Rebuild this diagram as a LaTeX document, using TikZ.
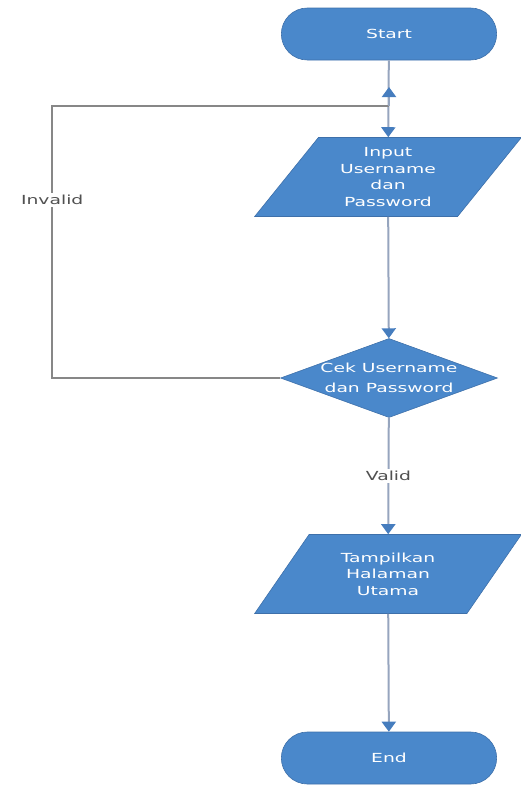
\documentclass[tikz,border=0pt]{standalone}
\usepackage{fontspec}
\newfontfamily\flowfont[FakeStretch=1.5]{DejaVu Sans}
\usetikzlibrary{shapes.geometric, shapes.misc, arrows.meta}

\definecolor{boxblue}{RGB}{74,136,203}
\definecolor{edgeblue}{RGB}{62,112,170}
\definecolor{linegray}{RGB}{150,165,190}
\definecolor{loopgray}{RGB}{135,135,135}
\definecolor{tipblue}{RGB}{70,125,190}
\definecolor{labelgray}{RGB}{80,80,80}

\begin{document}
\begin{tikzpicture}[
    x=1pt, y=-1pt,
    % Define styles
    terminal/.style={rounded rectangle, draw=edgeblue, fill=boxblue, line width=0.6pt, minimum width=222pt, minimum height=52pt, text=white, font=\flowfont\fontsize{12.5}{17}\selectfont},
    io/.style={trapezium, trapezium left angle=54, trapezium right angle=126, trapezium stretches=true, draw=edgeblue, fill=boxblue, line width=0.6pt, minimum width=267pt, minimum height=79pt, inner sep=2pt, align=center, text=white, font=\flowfont\fontsize{12.5}{16.5}\selectfont},
    decision/.style={diamond, draw=edgeblue, fill=boxblue, line width=0.6pt, minimum width=217pt, minimum height=79pt, inner sep=0pt, align=center, text=white, font=\flowfont\fontsize{12.5}{20}\selectfont},
    flow/.style={draw=linegray, line width=2pt, -{Triangle[width=14pt, length=10pt, color=tipblue]}},
    back/.style={draw=loopgray, line width=1.6pt},
    tag/.style={fill=white, inner sep=2pt, text=labelgray, font=\flowfont\fontsize{12.5}{15}\selectfont}
]
\useasboundingbox (0,0) rectangle (521,788);

% Nodes
\node[terminal] (start_term) at (389,34) {Start};
\node[io] (input_data) at (388,177) {Input\\Username\\dan\\Password};
\node[decision] (check_login) at (389,378) {\makebox[0pt]{Cek Username}\\\makebox[0pt]{dan Password}};
\node[io] (show_page) at (388,574) {Tampilkan\\Halaman\\Utama};
\node[terminal] (end_term) at (389,758) {End};

% Loop back points
\coordinate (back_top) at (389,106);
\coordinate (back_tip) at (389,87);

% Connectors
\draw[flow] (start_term) -- (input_data);
\draw[flow] (input_data) -- (check_login);
\draw[flow] (check_login) -- node[tag, pos=0.5] {Valid} (show_page);
\draw[flow] (show_page) -- (end_term);

% Invalid loop
\draw[back] (check_login.west) -- ++(-228,0) |- node[tag, pos=0.327] {Invalid} (back_top);
\draw[flow] (back_top) -- (back_tip);

\end{tikzpicture}
\end{document}
